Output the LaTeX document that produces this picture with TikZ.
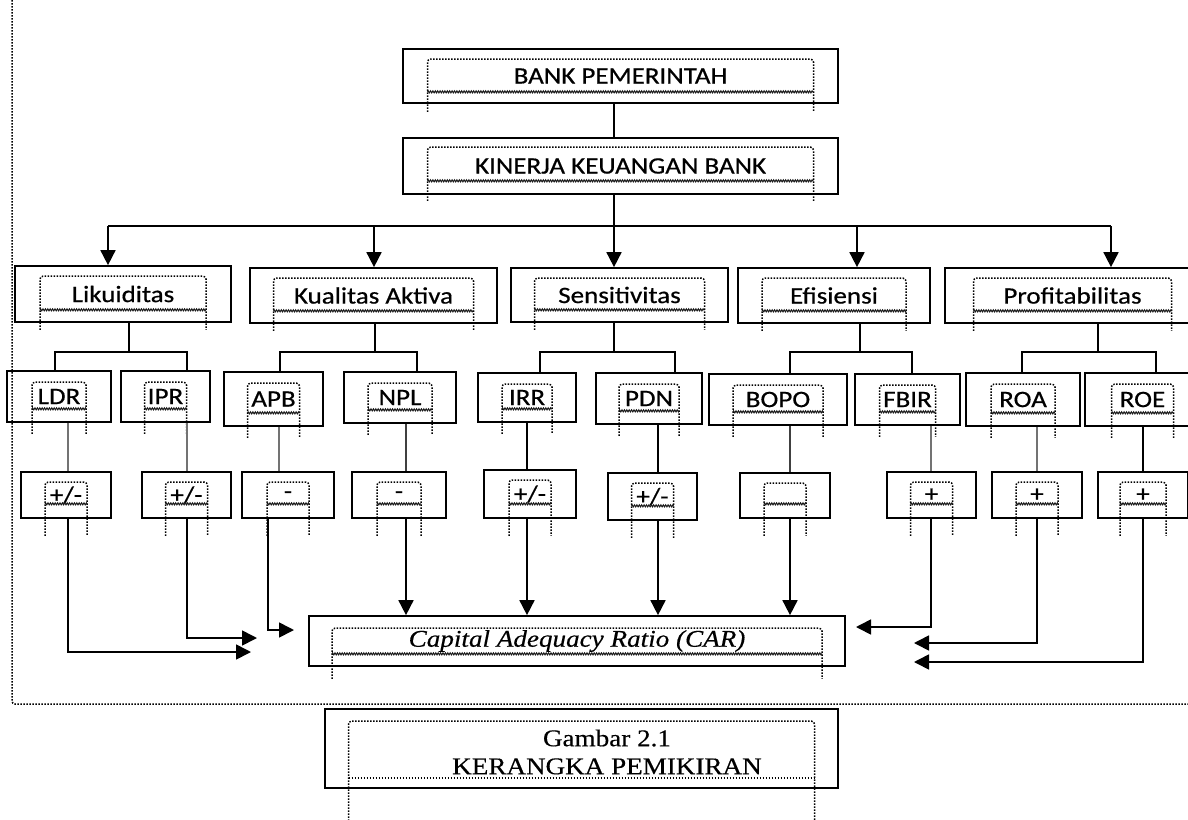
\documentclass[tikz,border=0pt]{standalone}
\usepackage{fontspec}
\setmainfont{Carlito}[FakeStretch=1.15,FakeBold=0.6]
\newfontfamily\serifx{Liberation Serif}[FakeStretch=1.13,FakeBold=0.4]
\usetikzlibrary{arrows.meta,calc,decorations.pathmorphing}
% #2 name, #3 x1, #4 y1, #5 x2, #6 y2, #7 text
\newcommand\bx[7][]{\node[box,#1,minimum width={#5-#3},minimum height={#6-#4}] (#2) at ({(#3+#5)/2},{(#4+#6)/2}) {#7};}
% dotted inner frame: #1 node, #2 half width, #3 top offset, #4 wavy offset above bottom, #5 extension below bottom
\newcommand\fr[5]{%
  \draw[dfr,rounded corners=3pt] ($(#1.south)+(-#2,#5)$) -- ($(#1.north)+(-#2,#3)$) -- ($(#1.north)+(#2,#3)$) -- ($(#1.south)+(#2,#5)$);
  \draw[wav] ($(#1.south)+(-#2,-#4)$) -- ($(#1.south)+(#2,-#4)$);}
\begin{document}
\begin{tikzpicture}[x=1pt,y=-1pt,
  box/.style={draw,line width=1.7pt,inner sep=0pt,font=\fontsize{23.5}{27}\selectfont},
  link/.style={line width=1.7pt},
  glink/.style={line width=2pt,draw=black!55},
  arr/.style={line width=1.7pt,-{Triangle[length=15pt,width=15pt]}},
  dfr/.style={line width=1.5pt,dash pattern=on 1.5pt off 1.5pt,draw=black},
  wav/.style={line width=1pt,draw=black!90,decorate,decoration={zigzag,amplitude=1pt,segment length=2.4pt}},
  border/.style={line width=1.5pt,dash pattern=on 1.5pt off 1.5pt,draw=black}]
\useasboundingbox (0,0) rectangle (1188,819);
\draw[border,rounded corners=3pt] (12,0) -- (12,704) -- (1188,704);

% boxes
\bx{bank}{403}{49}{838}{103}{BANK PEMERINTAH}
\bx{kin}{403}{138}{838}{194}{KINERJA KEUANGAN BANK}
\bx{liq}{15}{266}{231}{322}{Likuiditas}
\bx{kual}{250}{268}{497}{323}{Kualitas Aktiva}
\bx{sens}{511}{268}{728}{322}{Sensitivitas}
\bx{efi}{738}{268}{930}{323}{Efisiensi}
\bx{prof}{945}{268}{1200}{323}{Profitabilitas}

\bx{ldr}{7}{371}{111}{422}{LDR}
\bx{ipr}{121}{371}{210}{422}{IPR}
\bx{apb}{224}{372}{323}{426}{APB}
\bx{npl}{344}{372}{456}{423}{NPL}
\bx{irr}{478}{373}{576}{422}{IRR}
\bx{pdn}{596}{373}{702}{424}{PDN}
\bx{bopo}{709}{374}{847}{425}{BOPO}
\bx{fbir}{855}{374}{960}{425}{FBIR}
\bx{roa}{966}{373}{1080}{426}{ROA}
\bx{roe}{1085}{373}{1200}{426}{ROE}

\bx{sldr}{21}{472}{111}{518}{+/-}
\bx{sipr}{142}{472}{231}{518}{+/-}
\bx{sapb}{242}{472}{334}{518}{-}
\bx{snpl}{352}{472}{446}{518}{-}
\bx{sirr}{484}{470}{576}{518}{+/-}
\bx{spdn}{608}{473}{697}{520}{+/-}
\bx{sbopo}{740}{473}{830}{518}{}
\bx{sfbir}{887}{472}{976}{518}{+}
\bx{sroa}{992}{472}{1082}{518}{+}
\bx{sroe}{1098}{472}{1188}{518}{+}

\bx[font=\serifx\itshape\fontsize{24}{28}\selectfont]{car}{309}{616}{845}{666}{Capital Adequacy Ratio (CAR)}
\bx{cap}{325}{709}{838}{788}{}
\node[font=\serifx\fontsize{24}{28}\selectfont,align=center,inner sep=0pt] (captxt) at (607,752) {Gambar 2.1\\KERANGKA PEMIKIRAN};

% dotted inner frames
\fr{bank}{193}{11}{12}{8}
\fr{kin}{193}{10}{14}{6}
\fr{liq}{83}{11}{13}{7}
\fr{kual}{100}{11}{13}{7}
\fr{sens}{85}{11}{13}{7}
\fr{efi}{72}{11}{13}{7}
\fr{prof}{99}{11}{13}{7}
\fr{ldr}{27}{12}{14}{11}
\fr{ipr}{21}{12}{14}{11}
\fr{apb}{26}{12}{14}{11}
\fr{npl}{32}{12}{14}{11}
\fr{irr}{25}{12}{14}{11}
\fr{pdn}{30}{12}{14}{11}
\fr{bopo}{45}{12}{14}{11}
\fr{fbir}{28}{12}{14}{11}
\fr{roa}{32}{12}{14}{11}
\fr{roe}{31}{12}{14}{11}
\fr{sldr}{21}{11}{15}{17}
\fr{sipr}{21}{11}{15}{17}
\fr{sapb}{21}{11}{15}{17}
\fr{snpl}{22}{11}{15}{17}
\fr{sirr}{21}{11}{15}{17}
\fr{spdn}{21}{11}{15}{17}
\fr{sbopo}{21}{11}{15}{17}
\fr{sfbir}{21}{11}{15}{17}
\fr{sroa}{21}{11}{15}{17}
\fr{sroe}{23}{11}{15}{17}
\fr{car}{245}{13}{13}{12}
\draw[dfr,rounded corners=3pt] ($(cap.south)+(-233,35)$) -- ($(cap.north)+(-233,13)$) -- ($(cap.north)+(233,13)$) -- ($(cap.south)+(233,35)$);
\draw[dfr] ($(cap.south)+(-233,-11)$) -- ($(cap.south)+(233,-11)$);

% top connectors
\coordinate (spine) at (614,226);
\coordinate (b1) at (108,226);
\coordinate (b2) at (374,226);
\coordinate (b4) at (857,226);
\coordinate (b5) at (1111,226);
\draw[link] (bank.south -| spine) -- (kin.north -| spine);
\draw[link] (kin.south -| spine) -- (spine);
\draw[link] (b1) -- (b5);
\draw[arr] (b1) -- (liq.north -| b1);
\draw[arr] (b2) -- (kual.north -| b2);
\draw[arr] (spine) -- (sens.north -| spine);
\draw[arr] (b4) -- (efi.north -| b4);
\draw[arr] (b5) -- (prof.north -| b5);

% sub buses
\coordinate (q1) at (129,352); \coordinate (q1a) at (55,352); \coordinate (q1b) at (187,352);
\coordinate (q2) at (375,352); \coordinate (q2a) at (280,352); \coordinate (q2b) at (417,352);
\coordinate (q3) at (614,352); \coordinate (q3a) at (540,352); \coordinate (q3b) at (675,352);
\coordinate (q4) at (860,352); \coordinate (q4a) at (790,352); \coordinate (q4b) at (912,352);
\coordinate (q5) at (1098,352); \coordinate (q5a) at (1022,352); \coordinate (q5b) at (1156,352);
\draw[link] (liq.south -| q1) -- (q1);
\draw[link] (ldr.north -| q1a) |- (q1b) -- (ipr.north -| q1b);
\draw[link] (kual.south -| q2) -- (q2);
\draw[link] (apb.north -| q2a) |- (q2b) -- (npl.north -| q2b);
\draw[link] (sens.south -| q3) -- (q3);
\draw[link] (irr.north -| q3a) |- (q3b) -- (pdn.north -| q3b);
\draw[link] (efi.south -| q4) -- (q4);
\draw[link] (bopo.north -| q4a) |- (q4b) -- (fbir.north -| q4b);
\draw[link] (prof.south -| q5) -- (q5);
\draw[link] (roa.north -| q5a) |- (q5b) -- (roe.north -| q5b);

% ratio to sign
\coordinate (vldr) at (68,0);
\coordinate (vipr) at (187,0);
\coordinate (vapb) at (279,0);
\coordinate (vapb2) at (268,0);
\coordinate (vnpl) at (406,0);
\coordinate (virr) at (527,0);
\coordinate (vpdn) at (658,0);
\coordinate (vbopo) at (790,0);
\coordinate (vfbir) at (931,0);
\coordinate (vroa) at (1037,0);
\coordinate (vroe) at (1143,0);
\draw[glink] (ldr.south -| vldr) -- (sldr.north -| vldr);
\draw[glink] (ipr.south -| vipr) -- (sipr.north -| vipr);
\draw[glink] (apb.south -| vapb) -- (sapb.north -| vapb);
\draw[glink,draw=black!75] (npl.south -| vnpl) -- (snpl.north -| vnpl);
\draw[link] (irr.south -| virr) -- (sirr.north -| virr);
\draw[link] (pdn.south -| vpdn) -- (spdn.north -| vpdn);
\draw[glink,draw=black!75] (bopo.south -| vbopo) -- (sbopo.north -| vbopo);
\draw[glink] (fbir.south -| vfbir) -- (sfbir.north -| vfbir);
\draw[glink] (roa.south -| vroa) -- (sroa.north -| vroa);
\draw[link] (roe.south -| vroe) -- (sroe.north -| vroe);

% sign to CAR
\coordinate (tl1) at (251,652);
\coordinate (tl2) at (257,638);
\coordinate (tl3) at (294,630);
\coordinate (tr1) at (856,627);
\coordinate (tr2) at (914,643);
\coordinate (tr3) at (914,662);
\draw[arr] (sldr.south -| vldr) |- (tl1);
\draw[arr] (sipr.south -| vipr) |- (tl2);
\draw[arr] (sapb.south -| vapb2) |- (tl3);
\draw[arr] (snpl.south -| vnpl) -- (car.north -| vnpl);
\draw[arr] (sirr.south -| virr) -- (car.north -| virr);
\draw[arr] (spdn.south -| vpdn) -- (car.north -| vpdn);
\draw[arr] (sbopo.south -| vbopo) -- (car.north -| vbopo);
\draw[arr] (sfbir.south -| vfbir) |- (tr1);
\draw[arr] (sroa.south -| vroa) |- (tr2);
\draw[arr] (sroe.south -| vroe) |- (tr3);
\end{tikzpicture}
\end{document}
